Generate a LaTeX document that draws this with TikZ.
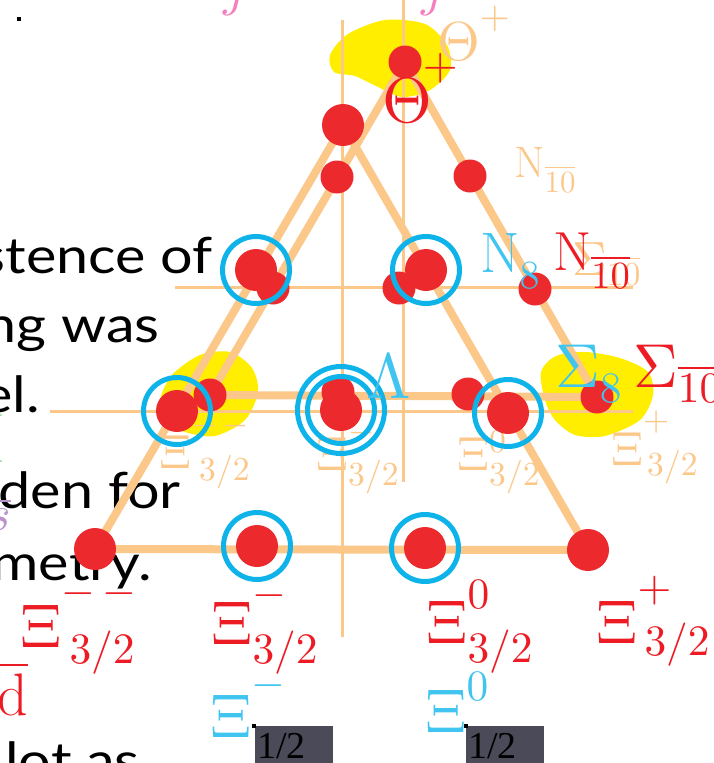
\documentclass[tikz,border=0pt]{standalone}
\usepackage{graphicx}
\usepackage{fontspec}
\newfontfamily\slidefont{Lato}
\newfontfamily\tagfont{Liberation Serif}
\usetikzlibrary{positioning}
% one design size, scaled freely
\DeclareFontShape{OT1}{cmr}{m}{n}{<->cmr10}{}
\DeclareFontShape{OML}{cmm}{m}{it}{<->cmmi10}{}
\DeclareFontShape{OMS}{cmsy}{m}{n}{<->cmsy10}{}
\DeclareFontShape{OMX}{cmex}{m}{n}{<->cmex10}{}

\definecolor{tri}{RGB}{252,200,138}
\definecolor{dotred}{RGB}{236,42,46}
\definecolor{labred}{RGB}{237,28,36}
\definecolor{ringblue}{RGB}{14,180,233}
\definecolor{labblue}{RGB}{64,196,240}
\definecolor{yel}{RGB}{255,238,0}
\definecolor{pinkj}{RGB}{245,126,191}
\definecolor{boxgray}{RGB}{75,74,89}
\definecolor{lgreen}{RGB}{157,216,155}
\definecolor{lpurple}{RGB}{185,147,201}

% symbol with raised superscript and lowered subscript
\newcommand\hyp[5]{$#1\rlap{\raisebox{#4pt}{$\scriptstyle#2$}}\raisebox{-#5pt}{$\scriptstyle#3$}$}
\newcommand\sz[1]{\fontsize{#1}{#1}\selectfont}
\newcommand\wide[1]{\scalebox{1.15}[1]{#1}}

\begin{document}
\begin{tikzpicture}[
    x=1pt, y=-1pt,
    dec/.style={circle, fill=dotred, minimum size=42, inner sep=0pt},
    anti/.style={circle, fill=dotred, minimum size=33, inner sep=0pt},
    ring/.style={circle, draw=ringblue, line width=5pt, minimum size=67, inner sep=0pt},
    edge/.style={draw=tri, line width=8pt},
    axis/.style={draw=tri, line width=3pt},
    blob/.style={fill=yel},
    lab/.style={anchor=base west, inner sep=0pt},
    slide/.style={anchor=base east, inner sep=0pt, font=\slidefont\sz{50}},
    tag/.style={anchor=north west, fill=boxgray, minimum width=78, minimum height=40,
      text width=74pt, inner xsep=2pt, inner ysep=0pt, align=left, font=\tagfont\sz{38}}
  ]
  \fill[white] (0,0) rectangle (714,763);
  \useasboundingbox (0,0) rectangle (714,763);
  \clip (0,0) rectangle (714,763);

  % text of the slide underneath
  \node[slide] (t1) at (213,273) {\wide{stence of}};
  \node[slide] (t2) at (160,342) {\wide{ng was}};
  \node[slide] (t3) at (40,412) {\wide{el.}};
  \node[slide] (t4) at (181,508) {\wide{den for}};
  \node[slide] (t5) at (152,580) {\wide{metry.}};
  \node[slide] (t6) at (140,778) {\wide{lot as}};
  \node[anchor=base east, inner sep=0pt, text=lgreen, font=\sz{70}] (f1) at (6,462) {I};
  \node[anchor=base east, inner sep=0pt, text=lpurple, font=\sz{50}] (f2) at (11,530) {$\overline{s}$};
  \node[anchor=base east, inner sep=0pt, text=labred, font=\sz{60}] (f3) at (28,715) {$\overline{\mathrm{d}}$};
  \node[anchor=base, inner sep=0pt, text=pinkj, font=\sz{52}] (j1) at (236,5) {$j$};
  \node[anchor=base, inner sep=0pt, text=pinkj, font=\sz{52}] (j2) at (434,5) {$j$};
  \fill (17,17) rectangle (21,21);

  % highlights
  \path[blob] plot[smooth cycle] coordinates {(330,55) (348,34) (385,20) (425,24) (447,45) (450,70) (430,90) (402,97) (376,86) (355,76) (334,72)};
  \path[blob] plot[smooth cycle] coordinates {(160,400) (172,375) (200,355) (230,352) (252,368) (258,392) (245,420) (215,436) (185,432) (165,420)};
  \path[blob] plot[smooth cycle] coordinates {(541,372) (556,356) (585,352) (620,358) (648,372) (653,395) (640,420) (605,436) (575,435) (555,420) (545,400)};

  % weight points
  \coordinate (d1) at (95,549);   \coordinate (d2) at (257,546);
  \coordinate (d3) at (425,548);  \coordinate (d4) at (588,550);
  \coordinate (d5) at (177,411);  \coordinate (d6) at (341,410);
  \coordinate (d7) at (508,413);  \coordinate (d8) at (256,270);
  \coordinate (d9) at (426,270);  \coordinate (d10) at (343,125);
  \coordinate (a1) at (405,62);   \coordinate (a2) at (337,177);
  \coordinate (a3) at (470,176);  \coordinate (a4) at (273,288);
  \coordinate (a5) at (399,288);  \coordinate (a6) at (535,289);
  \coordinate (a7) at (210,395);  \coordinate (a8) at (338,392);
  \coordinate (a9) at (468,394);  \coordinate (a10) at (597,397);

  \draw[axis] (342,20) -- (342,637);
  \draw[axis] (403,0) -- (403,482);
  \draw[axis] (175,287) -- (633,287);
  \draw[axis] (50,411) -- (633,411);
  \draw[edge] (d1) -- (d10) -- (d4) -- cycle;
  \draw[edge] (a1) -- (a7) -- (a10) -- cycle;

  % faded labels
  \node[lab, text=tri, font=\sz{55}] (thO) at (437,60) {\hyp{\Theta}{+}{}{32}{0}};
  \node[lab, text=tri, font=\sz{44}] (nO) at (514,177) {\hyp{\mathrm{N}}{}{\overline{10}}{0}{15}};
  \node[lab, text=tri, font=\sz{48}] (sO) at (572,275) {\hyp{\Sigma}{}{\overline{10}}{0}{10}};
  \node[lab, text=tri, font=\sz{48}] (xO1) at (159,468) {\hyp{\Xi}{-\mkern3mu-}{\kern8pt3/2}{34}{12}};
  \node[lab, text=tri, font=\sz{48}] (xO2) at (316,470) {\hyp{\Xi}{-}{3/2}{29}{15}};
  \node[lab, text=tri, font=\sz{48}] (xO3) at (457,470) {\hyp{\Xi}{0}{3/2}{18}{15}};
  \node[lab, text=tri, font=\sz{48}] (xO4) at (611,465) {\hyp{\Xi}{+}{\kern4pt3/2}{35}{10}};

  \foreach \p in {a1,a2,a3,a4,a5,a6,a7,a8,a9,a10}
    \node[anti] (A\p) at (\p) {};
  \foreach \p in {d1,d2,d3,d4,d5,d6,d7,d8,d9,d10}
    \node[dec] (D\p) at (\p) {};
  \foreach \p in {d2,d3,d5,d6,d7,d8,d9}
    \node[ring] (R\p) at (\p) {};
  \node[ring, minimum size=87] (Rout) at (d6) {};

  % labels
  \node[lab, text=labred, font=\sz{64}] (thR) at (382,122) {\hyp{\Theta}{\kern-9pt+}{}{43}{0}};
  \node[lab, text=labred, font=\sz{55}] (nR) at (553,270) {\hyp{\mathrm{N}}{}{\overline{10}}{0}{18}};
  \node[lab, text=labred, font=\sz{62}] (sR) at (633,387) {\hyp{\Sigma}{}{\overline{10}}{0}{15}};
  \node[lab, text=labblue, font=\sz{57}] (nB) at (480,272) {\hyp{\mathrm{N}}{}{8}{0}{16}};
  \node[lab, text=labblue, font=\sz{62}] (sB) at (555,387) {\hyp{\Sigma}{}{8}{0}{15}};
  \node[lab, text=labblue, font=\sz{64}] (lB) at (366,398) {$\Lambda$};
  \node[lab, text=labred, font=\sz{62}] (xR1) at (20,647) {\hyp{\Xi}{-\mkern3mu-}{\kern8pt3/2}{43}{16}};
  \node[lab, text=labred, font=\sz{62}] (xR2) at (211,644) {\hyp{\Xi}{-}{3/2}{38}{19}};
  \node[lab, text=labred, font=\sz{62}] (xR3) at (426,643) {\hyp{\Xi}{0}{3/2}{35}{19}};
  \node[lab, text=labred, font=\sz{62}] (xR4) at (596,643) {\hyp{\Xi}{+}{\kern7pt3/2}{42}{12}};
  \node[lab, text=labblue, font=\sz{62}] (xB1) at (210,737) {\hyp{\Xi}{-}{}{41}{0}};
  \node[lab, text=labblue, font=\sz{62}] (xB2) at (425,732) {\hyp{\Xi}{0}{}{32}{0}};
  \node[tag] (h1) at (255,726) {1/2};
  \node[tag] (h2) at (466,726) {1/2};
  \fill (252,724) rectangle (256,728);
  \fill (464,724) rectangle (468,728);
\end{tikzpicture}
\end{document}
